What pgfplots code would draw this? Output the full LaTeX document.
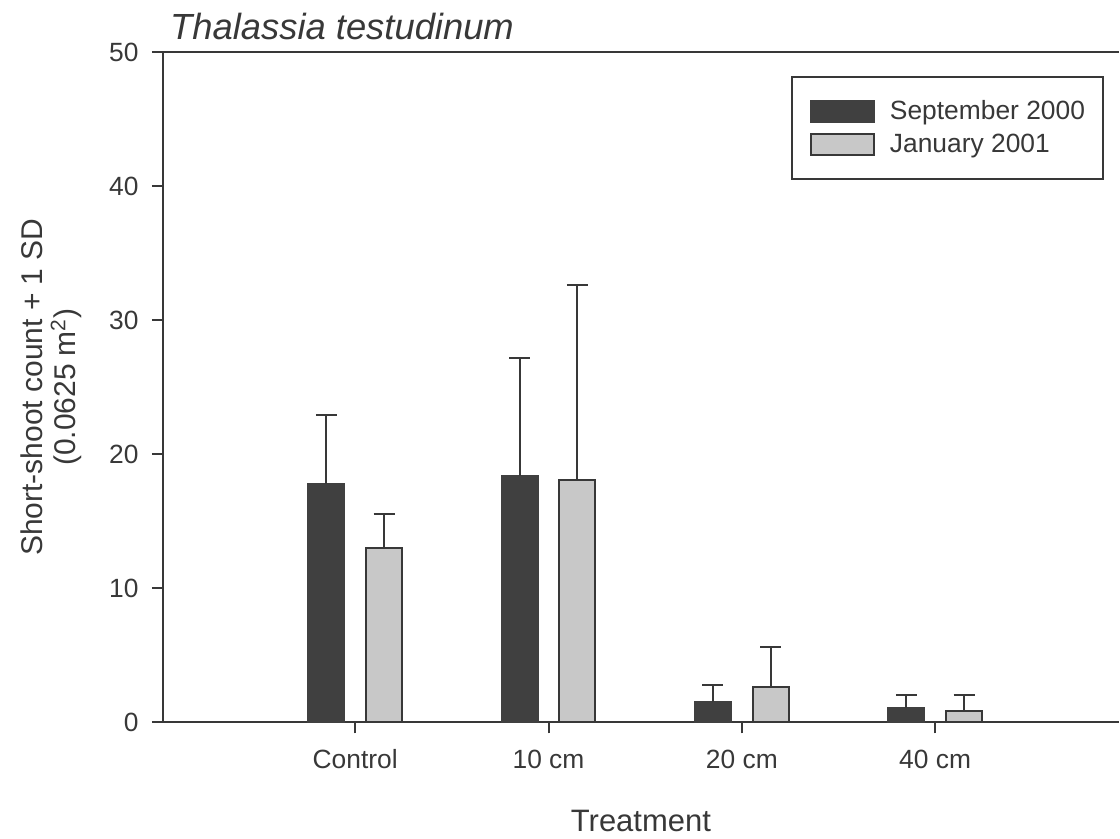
\documentclass[border=0pt]{standalone}
\usepackage{pgfplots}
\pgfplotsset{compat=1.18}
\usepackage{fontspec}
\setmainfont{Liberation Sans}
\definecolor{darkbar}{HTML}{404040}
\definecolor{lightbar}{HTML}{C8C8C8}
\definecolor{axcol}{HTML}{383838}

\begin{document}
\begin{tikzpicture}
\begin{axis}[
    scale only axis,
    width=478.5pt, height=335.5pt,
    xmin=-0.995, xmax=3.951,
    ymin=0, ymax=50,
    axis x line*=bottom,
    axis y line*=left,
    axis line style={line width=1pt, axcol},
    tick align=outside,
    major tick length=5.5pt,
    tick style={line width=1pt, axcol},
    xtick={0,1,2,3},
    xticklabels={Control,10 cm,20 cm,40 cm},
    ytick={0,10,20,30,40,50},
    /pgf/number format/assume math mode=true,
    tick label style={font=\fontsize{13.2}{15}\selectfont, text=axcol},
    xticklabel style={anchor=base, inner sep=0pt},
    yticklabel style={anchor=east, inner sep=0pt},
    xticklabel shift=17.5pt,
    yticklabel shift=6.5pt,
    xlabel={Treatment},
    xlabel style={at={(axis description cs:0.5,-0.1625)}, anchor=base,
        font=\fontsize{15.5}{18}\selectfont, text=axcol},
    ylabel={Short-shoot count + 1 SD\\(0.0625 m\textsuperscript{2})},
    ylabel style={at={(axis description cs:-0.1165,0.5)}, anchor=center,
        align=center, font=\fontsize{15}{16.5}\selectfont, text=axcol},
    title={\itshape Thalassia testudinum},
    title style={at={(axis description cs:0.0073,1.0209)}, anchor=base west,
        yshift=-7pt, inner sep=0pt, font=\fontsize{18.2}{20}\selectfont, text=axcol},
    legend style={
        at={(axis description cs:0.9843,0.9642)}, anchor=north east,
        draw=axcol, line width=1pt,
        font=\fontsize{13.2}{15}\selectfont, text=axcol,
        inner xsep=9pt, inner ysep=11.5pt,
        column sep=7.5pt, row sep=5pt,
        nodes={inner sep=0pt},
        legend cell align=left,
    },
    legend image code/.code={
        \draw[#1, line width=1pt] (0pt,-5.25pt) rectangle (31.5pt,5.25pt);
    },
    error bars/error bar style={line width=1pt, axcol},
    error bars/error mark options={rotate=90, mark size=5.25pt, line width=1pt, axcol},
]

% September 2000 (bars sit 0.1495 left of each category)
\addplot[ybar, bar width=18pt, bar shift=0pt, fill=darkbar, draw=darkbar,
    line width=1pt, error bars/.cd, y dir=plus, y explicit]
    coordinates {
        (-0.1495,17.8) +- (0,5.15)
        (0.8505,18.4)  +- (0,8.8)
        (1.8505,1.5)   +- (0,1.32)
        (2.8505,1.05)  +- (0,0.98)
    };
\addlegendentry{September 2000}

% January 2001
\addplot[ybar, bar width=18pt, bar shift=0pt, fill=lightbar, draw=axcol,
    line width=1pt, error bars/.cd, y dir=plus, y explicit]
    coordinates {
        (0.1495,13.0) +- (0,2.55)
        (1.1495,18.1) +- (0,14.55)
        (2.1495,2.6)  +- (0,3.0)
        (3.1495,0.85) +- (0,1.18)
    };
\addlegendentry{January 2001}

\draw[line width=1pt, axcol] (axis description cs:0,1) -- (axis description cs:1,1);
\end{axis}
\path (current axis.south west) ++(-81.5pt,-58pt) rectangle ++(560pt,419.5pt);
\end{tikzpicture}
\end{document}
